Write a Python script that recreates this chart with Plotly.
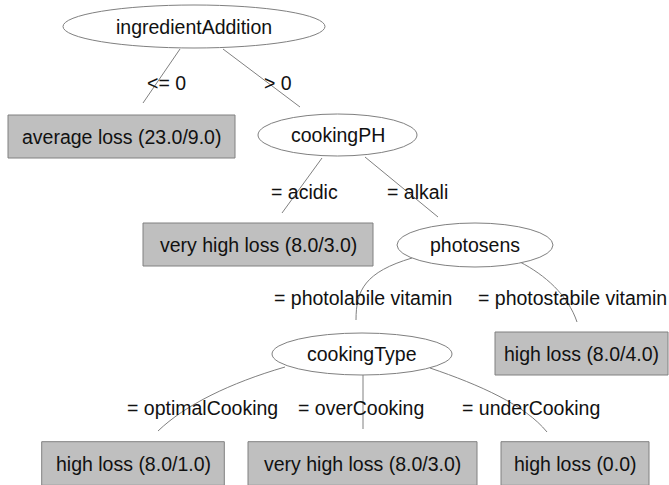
import plotly.graph_objects as go

# ---- data: the tree ----
node_ids = ["root", "avg", "cookingPH", "vhl_acidic", "photosens", "hl_stable",
            "cookingType", "hl_optimal", "vhl_over", "hl_under"]
node_labels = ["ingredientAddition", "average loss (23.0/9.0)", "cookingPH",
               "very high loss (8.0/3.0)", "photosens", "high loss (8.0/4.0)",
               "cookingType", "high loss (8.0/1.0)", "very high loss (8.0/3.0)",
               "high loss (0.0)"]
node_kinds = ["split", "leaf", "split", "leaf", "split", "leaf",
              "split", "leaf", "leaf", "leaf"]

edge_parents = ["root", "root", "cookingPH", "cookingPH", "photosens", "photosens",
                "cookingType", "cookingType", "cookingType"]
edge_children = ["avg", "cookingPH", "vhl_acidic", "photosens", "cookingType",
                 "hl_stable", "hl_optimal", "vhl_over", "hl_under"]
edge_labels = ["<= 0", "> 0", "= acidic", "= alkali", "= photolabile vitamin",
               "= photostabile vitamin", "= optimalCooking", "= overCooking",
               "= underCooking"]

# ---- layout (pixel space of the drawing) ----
node_center = {
    "root": (194, 26.5), "avg": (121.5, 136.5), "cookingPH": (337.5, 135),
    "vhl_acidic": (258, 244.5), "photosens": (475, 245), "hl_stable": (581.5, 353.5),
    "cookingType": (362, 354), "hl_optimal": (133, 463.5), "vhl_over": (362.5, 463.5),
    "hl_under": (575, 463.5),
}
node_half = {
    "root": (131, 21.5), "avg": (113.5, 21.5), "cookingPH": (79.5, 21),
    "vhl_acidic": (115, 21.5), "photosens": (78, 22), "hl_stable": (86.5, 21.5),
    "cookingType": (90, 21), "hl_optimal": (91.3, 21.8), "vhl_over": (114.5, 21.8),
    "hl_under": (74, 21.8),
}
edge_routes = [
    [(180, 49), (143, 103)],
    [(223, 49), (300, 107)],
    [(322, 158), (282, 213)],
    [(365, 157), (438, 217)],
    [(412, 258), (365, 272), (356, 290), (356, 320)],
    [(520, 262), (545, 275), (568, 295), (577, 322)],
    [(285, 367), (230, 383), (185, 405), (158, 431)],
    [(363, 375), (363, 429)],
    [(430, 368), (480, 385), (525, 405), (547, 432)],
]
edge_label_pos = [(166, 83), (277.5, 83), (304, 192), (417, 192), (362.5, 298),
                  (572, 298), (202.5, 408), (360.5, 408), (530.5, 408)]

FONT = "Liberation Sans, Arial, Helvetica, sans-serif"
FS = 19.5
LINE = "#808080"
LEAF_FILL = "#bfbfbf"
W, H = 669, 485

fig = go.Figure()
shapes = []
annotations = []

# edges
for pts in edge_routes:
    if len(pts) == 2:
        path = f"M {pts[0][0]},{pts[0][1]} L {pts[1][0]},{pts[1][1]}"
    else:
        path = (f"M {pts[0][0]},{pts[0][1]} C {pts[1][0]},{pts[1][1]} "
                f"{pts[2][0]},{pts[2][1]} {pts[3][0]},{pts[3][1]}")
    shapes.append(dict(type="path", path=path, xref="x", yref="y",
                       line=dict(color=LINE, width=1), layer="above"))

# nodes
for nid, lab, kind in zip(node_ids, node_labels, node_kinds):
    cx, cy = node_center[nid]
    hw, hh = node_half[nid]
    if kind == "split":
        shapes.append(dict(type="circle", xref="x", yref="y",
                           x0=cx - hw, x1=cx + hw, y0=cy - hh, y1=cy + hh,
                           line=dict(color=LINE, width=1), fillcolor="white",
                           layer="above"))
    else:
        shapes.append(dict(type="rect", xref="x", yref="y",
                           x0=cx - hw, x1=cx + hw, y0=cy - hh, y1=cy + hh,
                           line=dict(color=LINE, width=1), fillcolor=LEAF_FILL,
                           layer="above"))
    annotations.append(dict(x=cx, y=cy, xref="x", yref="y", text=lab,
                            showarrow=False, xanchor="center", yanchor="middle",
                            font=dict(family=FONT, size=FS, color="#111111")))

for lab, (lx, ly) in zip(edge_labels, edge_label_pos):
    annotations.append(dict(x=lx, y=ly, xref="x", yref="y", text=lab,
                            showarrow=False, xanchor="center", yanchor="middle",
                            font=dict(family=FONT, size=FS, color="#111111")))

# invisible trace to anchor the axes
fig.add_trace(go.Scatter(x=[0, W], y=[0, H], mode="markers",
                         marker=dict(opacity=0), hoverinfo="skip", showlegend=False))

fig.update_layout(
    width=W, height=H, autosize=False,
    margin=dict(l=0, r=0, t=0, b=0),
    paper_bgcolor="white", plot_bgcolor="white",
    shapes=shapes, annotations=annotations,
    xaxis=dict(range=[0, W], visible=False, fixedrange=True),
    yaxis=dict(range=[H, 0], visible=False, fixedrange=True),
    showlegend=False,
)

fig.write_html(
    "out.html",
    config={"displayModeBar": False},
    post_script="document.body.style.margin='0';document.body.style.overflow='hidden';",
)
